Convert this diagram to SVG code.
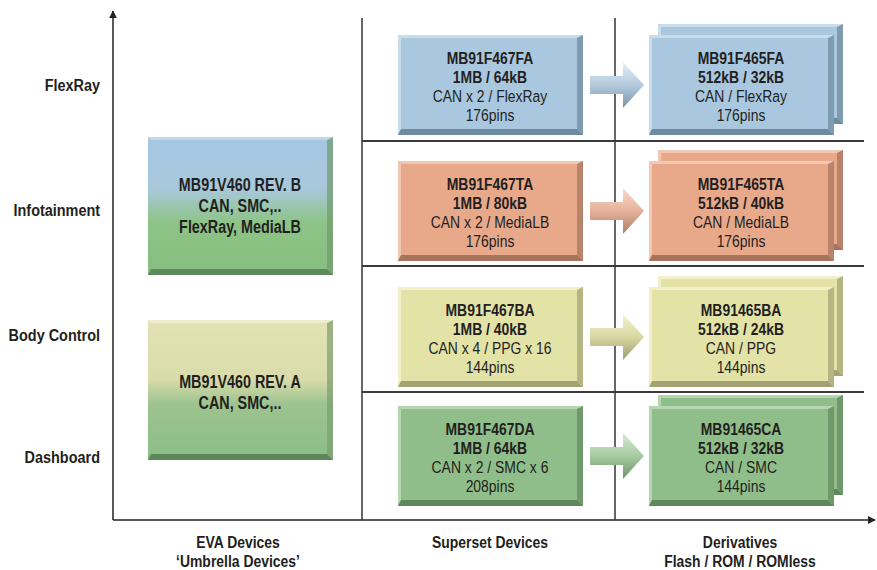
<svg xmlns="http://www.w3.org/2000/svg" width="877" height="570" viewBox="0 0 877 570">
<style>
  text { font-family: "Liberation Sans", Arial, sans-serif; fill: #231f20; text-anchor: middle; font-size: 17px;
         transform-box: fill-box; transform-origin: 50% 50%; transform: scaleX(0.82); }
  .b { font-weight: bold; }
  .eva { font-weight: bold; font-size: 17.5px; transform: scaleX(0.82); }
  .lbl { font-weight: bold; text-anchor: end; font-size: 17px; transform-origin: 100% 50%; transform: scaleX(0.85); }
  .axis { stroke: #222; stroke-width: 1.5; fill: none; }
  .grid { stroke: #333; stroke-width: 1.5; fill: none; }
  .sep { stroke: #3a3a3a; stroke-width: 2; fill: none; }
  .blue { --face: #a9c8df; --hi: #c9dcea; --lo: #6e8aa0; --lo2: #7f9bb0; }
  .sal  { --face: #e8a98b; --hi: #f3c8b2; --lo: #a6735d; --lo2: #b9836b; }
  .yel  { --face: #e4e3a7; --hi: #f1f0cb; --lo: #a3a273; --lo2: #b5b483; }
  .grn  { --face: #8fbe8a; --hi: #b5d6b0; --lo: #5f875c; --lo2: #6f986b; }
</style>
<defs>
  <linearGradient id="evaB" x1="0" y1="0" x2="0" y2="1">
    <stop offset="0" stop-color="#a6c7e4"/>
    <stop offset="0.38" stop-color="#a8c8da"/>
    <stop offset="0.62" stop-color="#8dc486"/>
    <stop offset="1" stop-color="#86bd80"/>
  </linearGradient>
  <linearGradient id="evaA" x1="0" y1="0" x2="0" y2="1">
    <stop offset="0" stop-color="#e3e3b5"/>
    <stop offset="0.42" stop-color="#d9dcaa"/>
    <stop offset="0.6" stop-color="#9dc38f"/>
    <stop offset="1" stop-color="#8bbe87"/>
  </linearGradient>
  <linearGradient id="arBlue" x1="0" y1="0" x2="0" y2="1">
    <stop offset="0" stop-color="#e6eef5"/><stop offset="0.5" stop-color="#b3cbdd"/><stop offset="1" stop-color="#7c93a6"/>
  </linearGradient>
  <linearGradient id="arSal" x1="0" y1="0" x2="0" y2="1">
    <stop offset="0" stop-color="#f7dccd"/><stop offset="0.5" stop-color="#e6b199"/><stop offset="1" stop-color="#a97f6c"/>
  </linearGradient>
  <linearGradient id="arYel" x1="0" y1="0" x2="0" y2="1">
    <stop offset="0" stop-color="#f3f2d5"/><stop offset="0.5" stop-color="#d9d8a2"/><stop offset="1" stop-color="#9d9c73"/>
  </linearGradient>
  <linearGradient id="arGrn" x1="0" y1="0" x2="0" y2="1">
    <stop offset="0" stop-color="#d6e9d2"/><stop offset="0.5" stop-color="#a6cba0"/><stop offset="1" stop-color="#6f946b"/>
  </linearGradient>
  <marker id="ah" viewBox="0 0 10 10" refX="9" refY="5" markerWidth="8" markerHeight="8" markerUnits="userSpaceOnUse" orient="auto">
    <path d="M0,0 L10,5 L0,10 Z" fill="#222"/>
  </marker>
  <g id="bev">
    <rect style="fill:var(--face)" x="0" y="0" width="185" height="100"/>
    <polygon style="fill:var(--hi)" points="0,0 185,0 182,3 3,3"/>
    <polygon style="fill:var(--hi)" points="0,0 3,3 3,94 0,100"/>
    <polygon style="fill:var(--lo2)" points="185,0 185,100 179,94 179,3"/>
    <polygon style="fill:var(--lo)" points="0,100 185,100 179,94 3,94"/>
  </g>
  <polygon id="arrow" points="0,-9 33,-9 33,-23 54,0 33,23 33,9 0,9"/>
</defs>

<g id="connectors">
  <line class="axis" x1="113" y1="520" x2="113" y2="11" marker-end="url(#ah)"/>
  <line class="axis" x1="113" y1="520" x2="875" y2="520" marker-end="url(#ah)"/>
  <line class="grid" x1="362" y1="18" x2="362" y2="520"/>
  <line class="grid" x1="615" y1="18" x2="615" y2="520"/>
  <line class="sep" x1="362" y1="141" x2="864" y2="141"/>
  <line class="sep" x1="362" y1="266" x2="864" y2="266"/>
  <line class="sep" x1="362" y1="392" x2="864" y2="392"/>
</g>

<g id="row-labels">
  <text class="lbl" x="100" y="91">FlexRay</text>
  <text class="lbl" x="100" y="216">Infotainment</text>
  <text class="lbl" x="100" y="341">Body Control</text>
  <text class="lbl" x="100" y="463">Dashboard</text>
</g>

<g id="axis-labels">
  <text class="b" x="238" y="548">EVA Devices</text>
  <text class="b" x="238" y="567">‘Umbrella Devices’</text>
  <text class="b" x="490" y="548">Superset Devices</text>
  <text class="b" x="740" y="548">Derivatives</text>
  <text class="b" x="740" y="567">Flash / ROM / ROMless</text>
</g>

<g id="eva-b">
  <rect x="148" y="137" width="185" height="138" fill="url(#evaB)"/>
  <polygon points="148,137 333,137 330,140 151,140" fill="#c5dced" opacity="0.8"/>
  <polygon points="333,137 333,275 327,269 327,140" fill="#6f9a6c" opacity="0.7"/>
  <polygon points="148,275 333,275 327,269 151,269" fill="#5f875c"/>
  <text class="eva" x="240" y="191">MB91V460 REV. B</text>
  <text class="eva" x="240" y="212">CAN, SMC,..</text>
  <text class="eva" x="240" y="233">FlexRay, MediaLB</text>
</g>

<g id="eva-a">
  <rect x="148" y="320" width="185" height="140" fill="url(#evaA)"/>
  <polygon points="148,320 333,320 330,323 151,323" fill="#f0f0d2" opacity="0.8"/>
  <polygon points="333,320 333,460 327,454 327,323" fill="#7c9c70" opacity="0.7"/>
  <polygon points="148,460 333,460 327,454 151,454" fill="#5f875c"/>
  <text class="eva" x="240" y="388">MB91V460 REV. A</text>
  <text class="eva" x="240" y="409">CAN, SMC,..</text>
</g>

<g id="superset-fa" class="blue" transform="translate(398,35)">
  <use href="#bev"/>
  <text class="b" x="92" y="29">MB91F467FA</text>
  <text class="b" x="92" y="48">1MB / 64kB</text>
  <text x="92" y="67">CAN x 2 / FlexRay</text>
  <text x="92" y="86">176pins</text>
</g>
<g id="superset-ta" class="sal" transform="translate(398,161)">
  <use href="#bev"/>
  <text class="b" x="92" y="29">MB91F467TA</text>
  <text class="b" x="92" y="48">1MB / 80kB</text>
  <text x="92" y="67">CAN x 2 / MediaLB</text>
  <text x="92" y="86">176pins</text>
</g>
<g id="superset-ba" class="yel" transform="translate(398,287)">
  <use href="#bev"/>
  <text class="b" x="92" y="29">MB91F467BA</text>
  <text class="b" x="92" y="48">1MB / 40kB</text>
  <text x="92" y="67">CAN x 4 / PPG x 16</text>
  <text x="92" y="86">144pins</text>
</g>
<g id="superset-da" class="grn" transform="translate(398,406)">
  <use href="#bev"/>
  <text class="b" x="92" y="29">MB91F467DA</text>
  <text class="b" x="92" y="48">1MB / 64kB</text>
  <text x="92" y="67">CAN x 2 / SMC x 6</text>
  <text x="92" y="86">208pins</text>
</g>

<g id="arrows">
  <use href="#arrow" transform="translate(590,85)" fill="url(#arBlue)"/>
  <use href="#arrow" transform="translate(590,211)" fill="url(#arSal)"/>
  <use href="#arrow" transform="translate(590,337)" fill="url(#arYel)"/>
  <use href="#arrow" transform="translate(590,456)" fill="url(#arGrn)"/>
</g>

<g id="derivative-fa" class="blue">
  <use href="#bev" transform="translate(658,24)"/>
  <g transform="translate(649,35)">
    <use href="#bev"/>
    <text class="b" x="92" y="29">MB91F465FA</text>
    <text class="b" x="92" y="48">512kB / 32kB</text>
    <text x="92" y="67">CAN / FlexRay</text>
    <text x="92" y="86">176pins</text>
  </g>
</g>
<g id="derivative-ta" class="sal">
  <use href="#bev" transform="translate(658,150)"/>
  <g transform="translate(649,161)">
    <use href="#bev"/>
    <text class="b" x="92" y="29">MB91F465TA</text>
    <text class="b" x="92" y="48">512kB / 40kB</text>
    <text x="92" y="67">CAN / MediaLB</text>
    <text x="92" y="86">176pins</text>
  </g>
</g>
<g id="derivative-ba" class="yel">
  <use href="#bev" transform="translate(658,276)"/>
  <g transform="translate(649,287)">
    <use href="#bev"/>
    <text class="b" x="92" y="29">MB91465BA</text>
    <text class="b" x="92" y="48">512kB / 24kB</text>
    <text x="92" y="67">CAN / PPG</text>
    <text x="92" y="86">144pins</text>
  </g>
</g>
<g id="derivative-ca" class="grn">
  <use href="#bev" transform="translate(658,395)"/>
  <g transform="translate(649,406)">
    <use href="#bev"/>
    <text class="b" x="92" y="29">MB91465CA</text>
    <text class="b" x="92" y="48">512kB / 32kB</text>
    <text x="92" y="67">CAN / SMC</text>
    <text x="92" y="86">144pins</text>
  </g>
</g>
</svg>
